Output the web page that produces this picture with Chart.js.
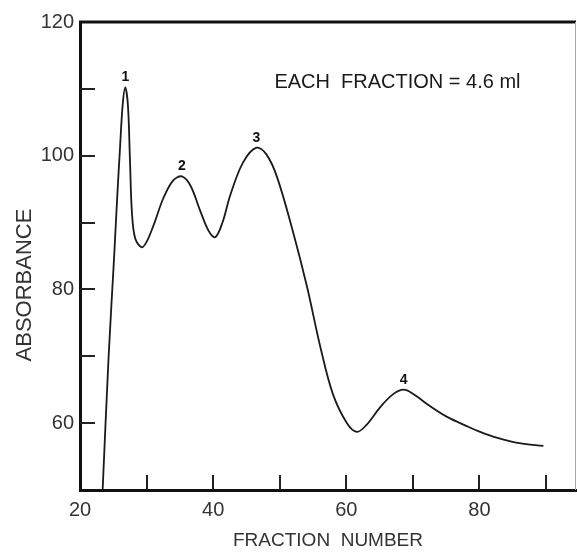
<!DOCTYPE html>
<html><head><meta charset="utf-8">
<script src="https://cdn.jsdelivr.net/npm/chart.js@4.4.0/dist/chart.umd.min.js"></script>
<style>html,body{margin:0;padding:0;background:#fff}canvas{display:block}</style>
</head><body>
<canvas id="c" width="577" height="552"></canvas>
<script>
const fractionNumbers = [23.4, 24.3, 25.1, 25.6, 26.0, 26.4, 26.8, 27.2, 27.5, 27.8, 28.3, 29.3, 30.1, 31.2, 32.5, 34.0, 35.3, 36.6, 38.0, 39.3, 40.3, 41.4, 42.6, 44.5, 46.5, 48.0, 49.6, 52.0, 54.1, 56.1, 58.0, 60.1, 61.6, 63.0, 65.1, 67.0, 68.6, 70.0, 72.5, 75.2, 78.0, 80.1, 82.7, 86.0, 89.6];
const absorbance = [50, 70, 84.4, 94, 101, 107.5, 110.2, 107.5, 99.5, 91.5, 87.6, 86.3, 87.3, 90, 93.6, 96.3, 96.9, 95.5, 91.9, 88.8, 87.8, 90, 94.2, 99.0, 101.2, 100.2, 96.8, 88.6, 80.4, 71.4, 64.3, 60, 58.7, 59.7, 62.4, 64.3, 65, 64.4, 62.6, 60.9, 59.6, 58.7, 57.8, 57, 56.6];
const peakLabels = ['1', '2', '3', '4'];
const peakFractions = [26.8, 35.3, 46.5, 68.6];
const peakValues = [110.2, 96.9, 101.2, 65];
const xTickValues = [20, 30, 40, 50, 60, 70, 80, 90];
const xTickLabels = [20, 40, 60, 80];
const yTickValues = [50, 60, 70, 80, 90, 100, 110, 120];
const yTickLabels = [60, 80, 100, 120];
const noteText = 'EACH  FRACTION = 4.6 ml';
const noteFraction = 49.2;
const noteValue = 110.9;
const xTitle = 'FRACTION  NUMBER';
const yTitle = 'ABSORBANCE';

const FONT = "'Liberation Sans', Arial, sans-serif";

const decor = {
  id: 'decor',
  afterDraw(chart) {
    const {ctx, chartArea: a, scales: {x, y}} = chart;
    ctx.save();
    ctx.strokeStyle = '#111';
    ctx.lineWidth = 3;
    ctx.beginPath();
    ctx.moveTo(a.left - 1, a.top);
    ctx.lineTo(a.right, a.top);
    ctx.stroke();
    ctx.strokeStyle = '#aaa';
    ctx.lineWidth = 1;
    ctx.beginPath();
    ctx.moveTo(a.right - 0.5, a.top);
    ctx.lineTo(a.right - 0.5, a.bottom);
    ctx.stroke();
    ctx.strokeStyle = '#222';
    ctx.lineWidth = 2;
    xTickValues.forEach(v => {
      if (v === x.min) return;
      const px = Math.round(x.getPixelForValue(v));
      ctx.beginPath();
      ctx.moveTo(px, a.bottom);
      ctx.lineTo(px, a.bottom - 15);
      ctx.stroke();
    });
    yTickValues.forEach(v => {
      if (v === y.min || v === y.max) return;
      const py = Math.round(y.getPixelForValue(v));
      ctx.beginPath();
      ctx.moveTo(a.left, py);
      ctx.lineTo(a.left + 15, py);
      ctx.stroke();
    });
    ctx.fillStyle = '#111';
    ctx.font = "bold 14px " + FONT;
    ctx.textAlign = 'center';
    ctx.textBaseline = 'bottom';
    peakLabels.forEach((t, i) => {
      ctx.fillText(t, x.getPixelForValue(peakFractions[i]), y.getPixelForValue(peakValues[i]) - 3);
    });
    ctx.font = "20px " + FONT;
    ctx.textAlign = 'left';
    ctx.textBaseline = 'middle';
    ctx.fillStyle = '#1a1a1a';
    ctx.fillText(noteText, x.getPixelForValue(noteFraction), y.getPixelForValue(noteValue));
    ctx.translate(25, 285);
    ctx.rotate(-Math.PI / 2);
    ctx.font = "22px " + FONT;
    ctx.textAlign = 'center';
    ctx.fillStyle = '#333';
    ctx.fillText(yTitle, 0, 0);
    ctx.restore();
  }
};

new Chart(document.getElementById('c'), {
  type: 'line',
  data: {
    datasets: [{
      data: fractionNumbers.map((f, i) => ({x: f, y: absorbance[i]})),
      borderColor: '#1a1a1a',
      borderWidth: 1.8,
      pointRadius: 0,
      tension: 0.35,
      fill: false
    }]
  },
  options: {
    responsive: false,
    animation: false,
    layout: {padding: {top: 22, right: 1, left: 0, bottom: 0}},
    plugins: {legend: {display: false}, tooltip: {enabled: false}},
    scales: {
      x: {
        type: 'linear',
        min: 20,
        max: 94.5,
        afterBuildTicks: s => { s.ticks = xTickValues.map(v => ({value: v})); },
        afterFit: s => { s.height = 62; },
        grid: {display: false, drawTicks: false},
        border: {display: true, width: 3, color: '#111'},
        ticks: {
          padding: 8,
          autoSkip: false,
          maxRotation: 0,
          color: '#333',
          font: {family: FONT, size: 20},
          callback: v => xTickLabels.includes(v) ? String(v) : ''
        },
        title: {
          display: true,
          text: xTitle,
          color: '#333',
          font: {family: FONT, size: 19},
          padding: {top: 6, bottom: 0}
        }
      },
      y: {
        type: 'linear',
        min: 50,
        max: 120,
        afterBuildTicks: s => { s.ticks = yTickValues.map(v => ({value: v})); },
        afterFit: s => { s.width = 80; },
        grid: {display: false, drawTicks: false},
        border: {display: true, width: 3, color: '#111'},
        ticks: {
          padding: 6,
          autoSkip: false,
          color: '#333',
          font: {family: FONT, size: 20},
          callback: v => yTickLabels.includes(v) ? String(v) : ''
        }
      }
    }
  },
  plugins: [decor]
});
</script>
</body></html>
